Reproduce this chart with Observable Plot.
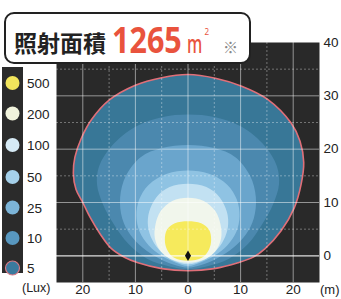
<!DOCTYPE html>
<html><head><meta charset="utf-8">
<script src="https://cdn.jsdelivr.net/npm/d3@7"></script>
<script src="https://cdn.jsdelivr.net/npm/@observablehq/plot@0.6"></script>
<style>
body{margin:0;background:#fff;}
#wrap{position:relative;width:341px;height:299px;overflow:hidden;}
#wrap svg{position:absolute;left:0;top:0;}
</style></head><body><div id="wrap"></div>
<script>
// iso-lux levels (Lux) and their colours
const levels = [5, 10, 25, 50, 100, 200, 500];
const levelColors = ["#387797", "#4b88ae", "#6aa5cc", "#8fc3e3", "#c2e1f2", "#f1f6ec", "#f6ea5c"];
const legendColors = ["#3a7a9e", "#5897bf", "#7cb4d8", "#a5d0ea", "#d6eaf5", "#f1f3dc", "#f2e55c"];

// contour outlines in metres (x: lateral, y: forward distance)
const c5 = [[0,34],[-5,33.4],[-10,32],[-15,29.2],[-18.3,25.6],[-20.3,22],[-21.5,18.5],[-21.8,15.5],[-21.3,12.5],[-20,10],[-18.6,7.2],[-16.7,4.1],[-14.6,1.4],[-12,-0.3],[-9.5,-1.3],[-5,-2.4],[0,-2.8],[5,-2.4],[9.5,-1.3],[12.5,-0.2],[14.6,1.3],[17.7,4.7],[20.2,9],[21.5,13.4],[22,17.5],[21.3,21.5],[19.6,24.9],[15.2,29.3],[10.2,31.8],[5.2,33.3]];
const c10 = [[0,26.5],[-5,26],[-10,24.2],[-14.5,20.6],[-16.9,16.8],[-17.3,13.4],[-16.2,9.7],[-14.1,5.9],[-11.3,2.2],[-7.7,-0.6],[-3.5,-2.0],[0,-2.5],[3.5,-2.0],[7.7,-0.6],[11.4,2.2],[14.1,5.9],[16.2,9.7],[17.3,13.4],[16.9,16.8],[14.6,20.6],[10.2,24.2],[5.2,26]];
const c25 = [[0,20.8],[-5,20.2],[-9,18.5],[-11.8,15],[-12.9,11],[-12.5,7],[-11,4],[-8.6,1.5],[-5.5,-0.5],[-2.5,-1.7],[0,-2.2],[2.5,-1.7],[5.5,-0.5],[8.6,1.5],[11,4],[12.5,7],[12.9,11],[11.8,15],[9,18.5],[5,20.2]];
const c50 = [[0,16],[-4,15.4],[-7.5,13.3],[-9.3,10.5],[-9.8,7.5],[-9.2,4.5],[-7.5,2],[-5,0],[-2.5,-1.2],[0,-1.9],[2.5,-1.2],[5,0],[7.5,2],[9.2,4.5],[9.8,7.5],[9.3,10.5],[7.5,13.3],[4,15.4]];
const c100 = [[0,13.5],[-3.5,12.9],[-6,11],[-7.4,8.2],[-7.6,5.5],[-6.8,3],[-5.2,0.8],[-3,-0.8],[0,-1.6],[3,-0.8],[5.2,0.8],[6.8,3],[7.6,5.5],[7.4,8.2],[6,11],[3.5,12.9]];
const c200 = [[0,10.9],[-3,10.3],[-5.2,8.4],[-6.2,5.8],[-6.3,3.3],[-5.3,1],[-3.3,-0.6],[0,-1.3],[3.3,-0.6],[5.3,1],[6.3,3.3],[6.2,5.8],[5.2,8.4],[3,10.3]];
const c500 = [[0,6.5],[-2.5,6.1],[-4,4.9],[-4.4,3],[-4,1.2],[-2.7,-0.3],[0,-0.9],[2.7,-0.3],[4,1.2],[4.4,3],[4,4.9],[2.5,6.1]];
const contours = [c5, c10, c25, c50, c100, c200, c500];

const lamp = [[0, 0]];
const xTicks = [-20, -10, 0, 10, 20];
const yTicks = [0, 10, 20, 30, 40];
const xMinor = [-15, -5, 5, 15];
const yMinor = [5, 15, 25, 35];

const axisFont = "'Liberation Sans', Arial, sans-serif";

const plot = Plot.plot({
  width: 341, height: 299,
  marginLeft: 56, marginRight: 22, marginTop: 42, marginBottom: 17,
  x: {domain: [-25, 25]},
  y: {domain: [-5, 40]},
  style: {fontFamily: axisFont, fontSize: "13.5px", color: "#222", background: "transparent"},
  marks: [
    Plot.frame({fill: "#292929"}),
    ...contours.map((c, i) => Plot.line(c, {
      x: d => d[0], y: d => d[1], curve: "catmull-rom-closed",
      fill: levelColors[i], stroke: i === 0 ? "#e06f78" : "none", strokeWidth: 1.6
    })),
    Plot.gridX(xMinor, {stroke: "#fff", strokeOpacity: 0.35, strokeDasharray: "2,2"}),
    Plot.gridY(yMinor, {stroke: "#fff", strokeOpacity: 0.35, strokeDasharray: "2,2"}),
    Plot.gridX(xTicks, {stroke: "#fff", strokeOpacity: 0.5, strokeWidth: 1}),
    Plot.gridY(yTicks.filter(d => d !== 0 && d !== 40), {stroke: "#fff", strokeOpacity: 0.5, strokeWidth: 1}),
    Plot.gridY([0], {stroke: "#fff", strokeOpacity: 0.85, strokeWidth: 1.2}),
    Plot.axisX(xTicks, {tickSize: 0, tickPadding: 2, tickFormat: d => Math.abs(d), label: null}),
    Plot.axisY(yTicks, {anchor: "right", tickSize: 0, tickPadding: 4, label: null}),
    Plot.dot(lamp, {x: d => d[0], y: d => d[1], symbol: "diamond", r: 3.2, fill: "#111"}),
    Plot.text(["(m)"], {frameAnchor: "bottom-right", text: d => d, dx: 20, dy: 11, fontSize: 13, fill: "#222", textAnchor: "end"})
  ]
});
document.getElementById("wrap").appendChild(plot);

// overlay: title box and legend
const svg = d3.select("#wrap").append("svg").attr("width", 341).attr("height", 299);
svg.append("rect").attr("x", 5).attr("y", 13).attr("width", 245).attr("height", 50)
  .attr("rx", 9).attr("fill", "#fff").attr("stroke", "#222").attr("stroke-width", 2);
svg.append("text").attr("x", 14).attr("y", 52).text("照射面積")
  .attr("font-family", "'Noto Sans CJK JP'").attr("font-weight", 700).attr("font-size", 23).attr("fill", "#222");
svg.append("text").attr("transform", "translate(112,53) scale(1,1.17)").text("1265")
  .attr("font-family", "'Noto Sans', sans-serif").attr("font-weight", 700).attr("font-size", 30.5)
  .attr("fill", "#e9533d");
svg.append("text").attr("transform", "translate(187,53) scale(0.95,1.5)").text("m")
  .attr("font-family", "'Noto Sans', sans-serif").attr("font-weight", 500).attr("font-size", 17)
  .attr("fill", "#e9533d");
svg.append("text").attr("x", 204.5).attr("y", 35).text("2")
  .attr("font-family", "'Noto Sans', sans-serif").attr("font-size", 8).attr("fill", "#e9533d");
svg.append("text").attr("x", 223).attr("y", 53).text("※")
  .attr("font-family", "'Noto Sans CJK JP'").attr("font-size", 15).attr("fill", "#888");

const legendLabels = ["500", "200", "100", "50", "25", "10", "5"];
const legendY = [83, 113.5, 145, 177, 207.5, 238, 268];
svg.append("rect").attr("x", 2).attr("y", 67).attr("width", 21).attr("height", 206).attr("fill", "#2b2b2b");
legendLabels.forEach((lab, i) => {
  const col = legendColors[levels.length - 1 - i];
  svg.append("circle").attr("cx", 12.5).attr("cy", legendY[i]).attr("r", 7)
    .attr("fill", col).attr("stroke", lab === "5" ? "#d77a86" : "none").attr("stroke-width", 1.2);
  svg.append("text").attr("x", 27).attr("y", legendY[i] + 5).text(lab)
    .attr("font-family", axisFont).attr("font-size", 13.5).attr("fill", "#222");
});
svg.append("text").attr("x", 22).attr("y", 292).text("(Lux)")
  .attr("font-family", axisFont).attr("font-size", 12.5).attr("fill", "#222");
</script></body></html>
